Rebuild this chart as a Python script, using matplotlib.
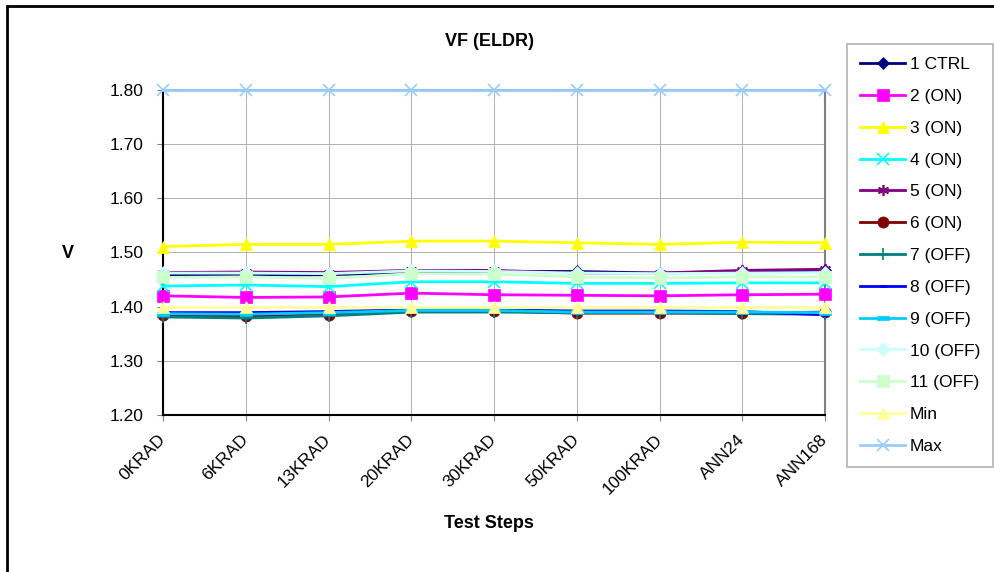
import matplotlib
matplotlib.use('Agg')
import matplotlib.pyplot as plt
from matplotlib.patches import Rectangle
from matplotlib.path import Path

plt.rcParams['font.family'] = ['Liberation Sans', 'DejaVu Sans']

# data
steps = ['0KRAD', '6KRAD', '13KRAD', '20KRAD', '30KRAD', '50KRAD', '100KRAD', 'ANN24', 'ANN168']

ctrl_1 = [1.458, 1.458, 1.459, 1.463, 1.465, 1.465, 1.462, 1.465, 1.467]
on_2 = [1.420, 1.417, 1.418, 1.425, 1.422, 1.421, 1.420, 1.422, 1.423]
on_3 = [1.511, 1.515, 1.515, 1.521, 1.521, 1.518, 1.515, 1.519, 1.518]
on_4 = [1.438, 1.440, 1.437, 1.446, 1.446, 1.443, 1.443, 1.444, 1.444]
on_5 = [1.463, 1.464, 1.463, 1.467, 1.467, 1.462, 1.462, 1.467, 1.469]
on_6 = [1.384, 1.382, 1.385, 1.392, 1.392, 1.388, 1.388, 1.388, 1.390]
off_7 = [1.381, 1.379, 1.383, 1.390, 1.390, 1.389, 1.389, 1.387, 1.386]
off_8 = [1.389, 1.389, 1.391, 1.394, 1.394, 1.392, 1.392, 1.391, 1.385]
off_9 = [1.387, 1.386, 1.389, 1.393, 1.393, 1.390, 1.390, 1.390, 1.389]
off_10 = [1.462, 1.462, 1.461, 1.466, 1.465, 1.462, 1.461, 1.462, 1.463]
off_11 = [1.454, 1.455, 1.452, 1.461, 1.460, 1.455, 1.453, 1.455, 1.455]
limit_min = [1.40] * len(steps)
limit_max = [1.80] * len(steps)

labels = ['1 CTRL', '2 (ON)', '3 (ON)', '4 (ON)', '5 (ON)', '6 (ON)', '7 (OFF)',
          '8 (OFF)', '9 (OFF)', '10 (OFF)', '11 (OFF)', 'Min', 'Max']
series = [ctrl_1, on_2, on_3, on_4, on_5, on_6, off_7,
          off_8, off_9, off_10, off_11, limit_min, limit_max]
colors = ['#000080', '#FF00FF', '#FFFF00', '#00FFFF', '#800080', '#800000', '#008080',
          '#0000FF', '#00CCFF', '#CCFFFF', '#CCFFCC', '#FFFF99', '#99CCFF']

# excel style "dash" markers: short filled bars
bar_short = Path([(-1, -0.35), (1, -0.35), (1, 0.35), (-1, 0.35), (-1, -0.35)])
markers = ['D', 's', '^', 'x', (6, 2, 0), 'o', '+', bar_short, bar_short, 'D', 's', '^', 'x']
msizes = [6, 8, 8, 8, 8, 8, 8, 5, 8, 7, 8, 8, 8]

fig = plt.figure(figsize=(9.94, 5.72), dpi=100)
ax = fig.add_axes([163 / 994, 1 - 415 / 572, 662 / 994, 325 / 572])

x = list(range(len(steps)))
for vals, lab, col, mk, ms in zip(series, labels, colors, markers, msizes):
    hollow = mk in ('x', '+') or isinstance(mk, tuple)
    ax.plot(x, vals, color=col, lw=2, marker=mk, markersize=ms,
            markerfacecolor=col, markeredgecolor=col,
            markeredgewidth=1.2 if hollow else 0.5, label=lab, clip_on=False, zorder=3)

ax.set_xlim(0, len(steps) - 1)
ax.set_ylim(1.2, 1.8)
ax.set_yticks([1.2, 1.3, 1.4, 1.5, 1.6, 1.7, 1.8])
ax.set_yticklabels([f'{v:.2f}' for v in ax.get_yticks()])
ax.set_xticks(x)
ax.set_xticklabels(steps, rotation=45, ha='right', va='center', rotation_mode='anchor')
ax.tick_params(axis='both', direction='out', length=4, width=0.8, color='#808080',
               labelsize=12.5)
ax.tick_params(axis='y', pad=10)
ax.tick_params(axis='x', pad=12)

ax.grid(True, color='#B0B0B0', lw=0.7)
ax.set_axisbelow(True)
for side in ['left', 'bottom']:
    ax.spines[side].set_color('black')
    ax.spines[side].set_linewidth(1.5)
for side in ['right', 'top']:
    ax.spines[side].set_color('#808080')
    ax.spines[side].set_linewidth(1.5)

ax.set_ylabel('V', fontsize=13, fontweight='bold', rotation=0, va='center', ha='center')
ax.yaxis.set_label_coords((68 - 163) / 662, (415 - 254) / 325)
ax.set_xlabel('Test Steps', fontsize=13, fontweight='bold', va='center')
ax.xaxis.set_label_coords(0.4925, (415 - 523) / 325)
ax.text(0.4925, (415 - 42) / 325, 'VF (ELDR)', transform=ax.transAxes,
        ha='center', va='center', fontsize=13, fontweight='bold')

leg = fig.legend(loc='upper left', bbox_to_anchor=(847 / 994, 1 - 44 / 572),
                 fontsize=12.5, frameon=True, fancybox=False, shadow=False,
                 handlelength=2.6, handletextpad=0.25, labelspacing=0.96,
                 borderpad=0.75, borderaxespad=0)
leg.get_frame().set_edgecolor('#A0A0A0')
leg.get_frame().set_linewidth(1.2)

# outer chart border (only top and left visible in the crop)
fig.patches.append(Rectangle((7 / 994, -0.1), 1.1, 1.1 - 6 / 572, transform=fig.transFigure,
                             fill=False, edgecolor='black', lw=2))

fig.savefig('out.png', dpi=100)
